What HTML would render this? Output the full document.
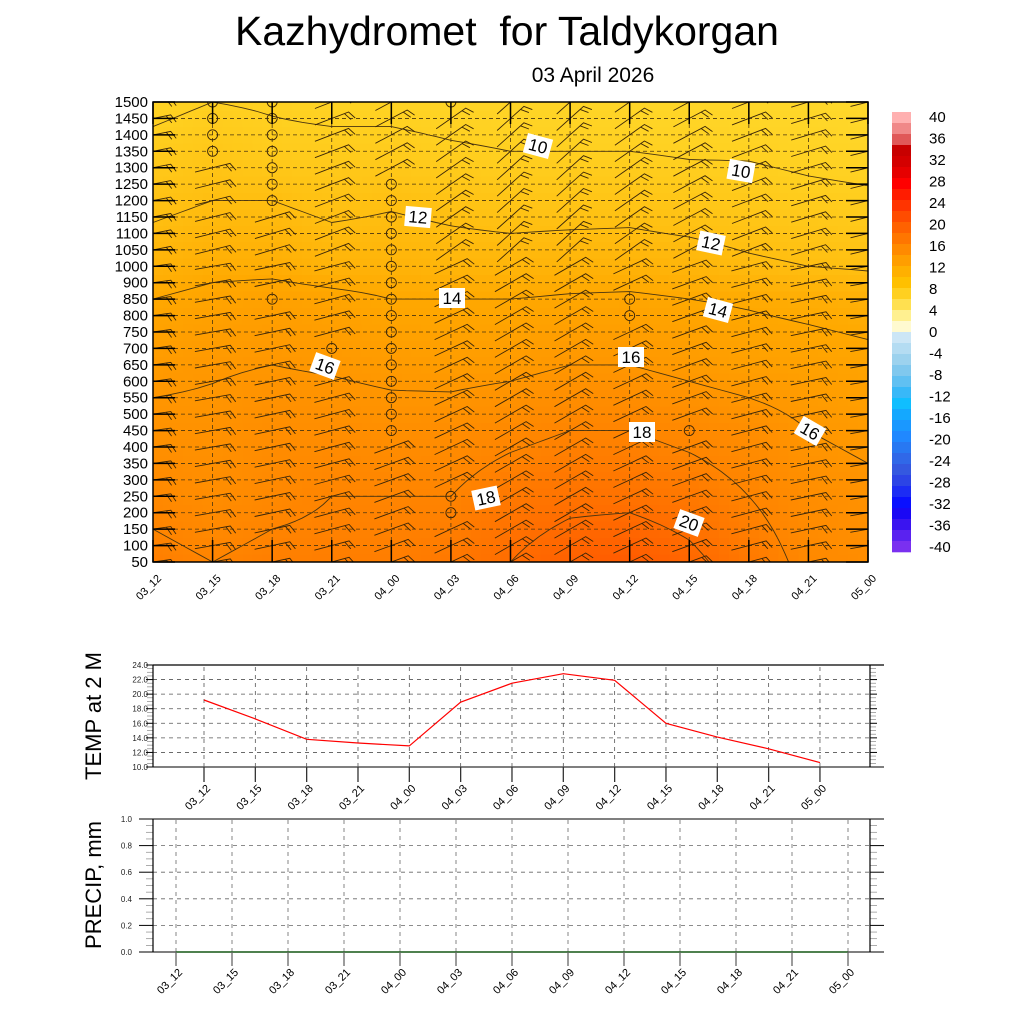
<!DOCTYPE html>
<html><head><meta charset="utf-8"><style>
html,body{margin:0;padding:0;background:#fff}
svg{display:block;font-family:"Liberation Sans",Arial,sans-serif}
</style></head><body>
<svg id="s" width="1024" height="1024" viewBox="0 0 1024 1024" xmlns="http://www.w3.org/2000/svg">
<defs><clipPath id="clipMain"><rect x="153" y="102" width="715" height="460"/></clipPath></defs>
<text x="507" y="45" font-size="41" text-anchor="middle" xml:space="preserve">Kazhydromet  for Taldykorgan</text>
<text x="593" y="82" font-size="21" text-anchor="middle">03 April 2026</text>
<g id="main"></g>
<g id="cbar"></g>
<g id="tp"></g>
<g id="pp"></g>
</svg>
<script>
const times=["03_12","03_15","03_18","03_21","04_00","04_03","04_06","04_09","04_12","04_15","04_18","04_21","05_00"];
const levels=[50,100,150,200,250,300,350,400,450,500,550,600,650,700,750,800,850,900,1000,1050,1100,1150,1200,1250,1300,1350,1400,1450,1500];
const fieldRowIdx=[0,4,8,12,16,18,22,25,28];
const field=[
[18.5,18,18.5,18.5,18.5,19,20,21,21.5,20.5,19,17.5,17],
[17.5,17,17.5,18,18,18,19,19.5,19.5,19,18,17,16.5],
[16.5,16.5,17,17,16.8,17,17.5,18,18,17.5,17,16,15.5],
[15.5,15.8,16,15.8,15.5,15.3,15.5,16,16,15.5,15,14.8,14.5],
[14,14.5,14.8,14.5,14,14,14,14.2,14.3,14,13.8,13.5,13.2],
[13,13.5,13.5,13,13,12.8,12.8,13,13,12.8,12.3,12,11.8],
[11.5,12,12,11.5,11.8,11.5,11.2,11.2,11.3,11,10.8,10.5,10.3],
[10.5,11,10.5,10.5,10.5,10.2,10,10,10,9.8,9.8,9.5,9.3],
[9.5,10,9.8,9.5,9.5,9.3,9.2,9.2,9,9,8.8,8.8,8.5]];
const contourLevels=[10,12,14,16,18,20];
const windAngle=[8,10,12,15,20,25,30,30,25,20,15,12,10];
const calmPts=[[1,25],[1,26],[1,27],[1,28],[2,22],[2,23],[2,24],[2,25],[2,26],[2,27],[2,28],[2,16],[3,13],[3,12],[4,8],[4,9],[4,10],[4,11],[4,12],[4,13],[4,14],[4,15],[4,16],[4,17],[4,18],[4,19],[4,20],[4,21],[4,22],[4,23],[5,3],[5,4],[5,28],[8,15],[8,16],[9,8]];
const cbLabels=["40","36","32","28","24","20","16","12","8","4","0","-4","-8","-12","-16","-20","-24","-28","-32","-36","-40"];
const cbColors=["#FFB0B0","#F08888","#E05858","#C80000","#D40000","#E60000","#FF0000","#FF1C00","#FF3400","#FF4C00","#FF6200","#FF7600","#FF8A00","#FF9E00","#FFB000","#FFC000","#FFD020","#FFE050","#FFF090","#FFFAD0","#CCE6F6","#B4DCF2","#9CD2EE","#80C8EE","#60C0F2","#38B8F8","#10BEFF","#14A8FF","#1A98FF","#2088FF","#2878F2","#3068E8","#3458E0","#2C44E6","#1C2CF4","#0A10FF","#1A08F4","#3A14F0","#5A22F0","#7A30F0"];
const fieldStopsT=[8,10,12,14,16,18,20,22];
const fieldStopsC=["#FFDC30","#FFD020","#FFBE10","#FFA800","#FF9600","#FF8400","#FF6C00","#FF5400"];
const temp2m=[19.2,16.6,13.8,13.3,12.9,18.9,21.5,22.8,21.9,16.0,14.1,12.5,10.6];
const tempTicks=[10,12,14,16,18,20,22,24];
const precip=[0,0,0,0,0,0,0,0,0,0,0,0,0];
const precipTicks=[0,0.2,0.4,0.6,0.8,1.0];

const NS="http://www.w3.org/2000/svg";
function mk(p,t,a){const e=document.createElementNS(NS,t);for(const k in a)e.setAttribute(k,a[k]);p.appendChild(e);return e;}
const X0=153,X1=868,Y0=562,Y1=102;
const xT=i=>X0+i*(X1-X0)/(times.length-1);
const yL=k=>Y0-k*(Y0-Y1)/(levels.length-1);
const main=document.getElementById('main');
const hx=s=>[1,3,5].map(j=>parseInt(s.substr(j,2),16));
function colorFor(t){
  let i=0;while(i<fieldStopsT.length-2&&t>fieldStopsT[i+1])i++;
  const fr=Math.max(0,Math.min(1,(t-fieldStopsT[i])/(fieldStopsT[i+1]-fieldStopsT[i])));
  const A=hx(fieldStopsC[i]),B=hx(fieldStopsC[i+1]);return 'rgb('+A.map((v,j)=>Math.round(v+(B[j]-v)*fr)).join(',')+')';
}
function fieldAt(ti,k){
  let r=0;while(r<fieldRowIdx.length-2&&k>fieldRowIdx[r+1])r++;
  const fk=Math.max(0,Math.min(1,(k-fieldRowIdx[r])/(fieldRowIdx[r+1]-fieldRowIdx[r])));
  let c=Math.min(times.length-2,Math.floor(ti));const fc=Math.max(0,Math.min(1,ti-c));
  const a=field[r][c]*(1-fc)+field[r][c+1]*fc,b=field[r+1][c]*(1-fc)+field[r+1][c+1]*fc;
  return a*(1-fk)+b*fk;
}
const NX=72,NY=56;
const fg=mk(main,'g',{'shape-rendering':'crispEdges'});


const cw=(X1-X0)/NX,ch=(Y0-Y1)/NY;
for(let i=0;i<NX;i++)for(let j=0;j<NY;j++){
  const ti=(i+0.5)/NX*(times.length-1),k=(j+0.5)/NY*(levels.length-1);
  mk(fg,'rect',{x:(X0+i*cw).toFixed(2),y:(Y0-(j+1)*ch).toFixed(2),width:(cw+0.6).toFixed(2),height:(ch+0.6).toFixed(2),fill:colorFor(fieldAt(ti,k))});
}
const cg=mk(main,'g',{stroke:'#4a3510','stroke-width':'0.9',fill:'none'});


const MX=48,MY=56;
const V=[];for(let i=0;i<=MX;i++){V[i]=[];for(let j=0;j<=MY;j++)V[i][j]=fieldAt(i/MX*(times.length-1),j/MY*(levels.length-1));}
const px=i=>X0+i/MX*(X1-X0),py=j=>Y0-j/MY*(Y0-Y1);
contourLevels.forEach(L=>{
  let d='';
  for(let i=0;i<MX;i++)for(let j=0;j<MY;j++){
    const c=[[i,j],[i+1,j],[i+1,j+1],[i,j+1]];const pts=[];
    for(let e=0;e<4;e++){const p=c[e],q=c[(e+1)%4];const a=V[p[0]][p[1]],b=V[q[0]][q[1]];
      if((a<L)!==(b<L)){const t=(L-a)/(b-a);pts.push([px(p[0]+(q[0]-p[0])*t),py(p[1]+(q[1]-p[1])*t)]);}}
    for(let m=0;m+1<pts.length;m+=2)d+='M'+pts[m][0].toFixed(1)+' '+pts[m][1].toFixed(1)+'L'+pts[m+1][0].toFixed(1)+' '+pts[m+1][1].toFixed(1);
  }
  const p=mk(cg,'path',{d:d});
  
  
});
const gg=mk(main,'g',{stroke:'#4a3510','stroke-width':'0.8','stroke-dasharray':'4 3'});
levels.forEach((l,k)=>{mk(gg,'line',{x1:X0,x2:X1,y1:yL(k),y2:yL(k)});});
times.forEach((t,i)=>{mk(gg,'line',{x1:xT(i),x2:xT(i),y1:Y0,y2:Y1});});
const bg=mk(main,'g',{stroke:'#3a2508','stroke-width':'0.9',fill:'none','clip-path':'url(#clipMain)'});


const isCalm=(i,k)=>calmPts.some(p=>p[0]===i&&p[1]===k);
times.forEach((t,i)=>{levels.forEach((l,k)=>{
  const x=xT(i),y=yL(k);
  if(isCalm(i,k)){const c=mk(bg,'circle',{cx:x,cy:y,r:5});return;}
  const a=windAngle[i]*(k>18?1.4:1)*Math.PI/180,L=18;
  const dx=Math.cos(a)*L,dy=-Math.sin(a)*L;
  const ex=x+dx,ey=y+dy;
  const fx=ex+Math.cos(a-1.1)*9,fy=ey-Math.sin(a-1.1)*9;
  const b=mk(bg,'path',{d:`M${(x-dx).toFixed(1)} ${(y-dy).toFixed(1)}L${ex.toFixed(1)} ${ey.toFixed(1)}L${fx.toFixed(1)} ${fy.toFixed(1)}M${(ex-dx*0.25).toFixed(1)} ${(ey-dy*0.25).toFixed(1)}l${(fx-ex).toFixed(1)} ${(fy-ey).toFixed(1)}`});
  
  
});});
const clabels=[[538,146,"10",15],[741,171,"10",10],[418,217,"12",5],[711,243,"12",12],[452,298,"14",0],[718,310,"14",15],[325,366,"16",20],[631,357,"16",0],[642,432,"18",0],[486,498,"18",-12],[689,523,"20",20],[810,431,"16",30]];
clabels.forEach(c=>{const g=mk(main,'g',{transform:`translate(${c[0]},${c[1]}) rotate(${c[3]})`});
  
  
  mk(g,'rect',{x:-13,y:-10,width:26,height:20,fill:'#fff'});
  const t=mk(g,'text',{x:0,y:6,'font-size':17,'text-anchor':'middle'});t.textContent=c[2];});
mk(main,'rect',{x:X0,y:Y1,width:X1-X0,height:Y0-Y1,fill:'none',stroke:'#000','stroke-width':1.5});
const tg=mk(main,'g',{stroke:'#000','stroke-width':1.5});
levels.forEach((l,k)=>{mk(tg,'line',{x1:X0,x2:X0+22,y1:yL(k),y2:yL(k)});mk(tg,'line',{x1:X1,x2:X1-22,y1:yL(k),y2:yL(k)});
  const t=mk(main,'text',{x:148,y:yL(k)+5,'font-size':15,'text-anchor':'end'});t.textContent=l;
  });
times.forEach((tm,i)=>{mk(tg,'line',{x1:xT(i),x2:xT(i),y1:Y0,y2:Y0-22});mk(tg,'line',{x1:xT(i),x2:xT(i),y1:Y1,y2:Y1+22});
  const t=mk(main,'text',{x:0,y:0,'font-size':11,'text-anchor':'end',transform:`translate(${xT(i)+9},${Y0+17}) rotate(-45)`});t.textContent=tm;
  });
const cbar=document.getElementById('cbar');
const bh=440/cbColors.length;
cbColors.forEach((c,i)=>{const r=mk(cbar,'rect',{x:892,y:(112+i*bh).toFixed(2),width:19,height:(bh+0.3).toFixed(2),fill:c});
  });
cbLabels.forEach((l,i)=>{const t=mk(cbar,'text',{x:929,y:117+i*21.5+5,'font-size':15});t.textContent=l;
  });
const tp=document.getElementById('tp');
const TX0=153,TX1=870,TY0=767,TY1=665;
const tx=i=>204+i*51.33,ty=v=>TY0-(v-tempTicks[0])/(tempTicks[tempTicks.length-1]-tempTicks[0])*(TY0-TY1);
const tgd=mk(tp,'g',{stroke:'#555','stroke-width':0.8,'stroke-dasharray':'4 4'});
tempTicks.forEach(v=>{mk(tgd,'line',{x1:TX0,x2:TX1,y1:ty(v),y2:ty(v)});
  const t=mk(tp,'text',{x:148,y:ty(v)+3,'font-size':8,'text-anchor':'end','fill':'#222'});t.textContent=v.toFixed(1);});
times.forEach((tm,i)=>{mk(tgd,'line',{x1:tx(i),x2:tx(i),y1:TY0,y2:TY1});});
for(let v=10;v<=24;v+=0.5){const mj=(v%2===0);mk(tp,'line',{x1:TX0-(mj?7:6),x2:TX0,y1:ty(v),y2:ty(v),stroke:mj?'#000':'#888','stroke-width':mj?1:0.7});
  mk(tp,'line',{x1:TX1,x2:TX1+(mj?7:6),y1:ty(v),y2:ty(v),stroke:mj?'#000':'#888','stroke-width':mj?1:0.7});}
mk(tp,'line',{x1:TX0,x2:884,y1:TY1,y2:TY1,stroke:'#000','stroke-width':1.2});
mk(tp,'line',{x1:TX0,x2:884,y1:TY0,y2:TY0,stroke:'#555','stroke-width':1.6});
mk(tp,'line',{x1:TX0,x2:TX0,y1:TY1,y2:TY0,stroke:'#000','stroke-width':1.2});
mk(tp,'line',{x1:TX1,x2:TX1,y1:TY1,y2:TY0,stroke:'#000','stroke-width':1.2});
const tl=mk(tp,'polyline',{points:temp2m.map((v,i)=>tx(i).toFixed(1)+','+ty(v).toFixed(1)).join(' '),fill:'none',stroke:'#f00','stroke-width':1.2});

times.forEach((tm,i)=>{mk(tp,'line',{x1:tx(i),x2:tx(i),y1:TY0,y2:TY0+15,stroke:'#333','stroke-width':1.3});
  const t=mk(tp,'text',{x:0,y:0,'font-size':11,'text-anchor':'end',transform:`translate(${tx(i)+7},${TY0+22}) rotate(-45)`});t.textContent=tm;
  });
const tyt=mk(tp,'text',{x:0,y:0,'font-size':22,'text-anchor':'middle',transform:'translate(101,716) rotate(-90)'});tyt.textContent='TEMP at 2 M';

const pp=document.getElementById('pp');
const PX0=153,PX1=870,PY0=952,PY1=819;
const pxs=i=>176+i*56,pys=v=>PY0-v/precipTicks[precipTicks.length-1]*(PY0-PY1);
const pgd=mk(pp,'g',{stroke:'#666','stroke-width':0.8,'stroke-dasharray':'4 4'});
precipTicks.forEach(v=>{mk(pgd,'line',{x1:PX0,x2:PX1,y1:pys(v),y2:pys(v)});
  const t=mk(pp,'text',{x:132,y:pys(v)+3,'font-size':8,'text-anchor':'end','fill':'#222'});t.textContent=v.toFixed(1);});
times.forEach((tm,i)=>{mk(pgd,'line',{x1:pxs(i),x2:pxs(i),y1:PY0,y2:PY1});});
for(let v=0;v<=1.0001;v+=0.05){const mj=Math.abs(v*5-Math.round(v*5))<1e-6;mk(pp,'line',{x1:PX0-(mj?14:7),x2:PX0,y1:pys(v),y2:pys(v),stroke:mj?'#000':'#888','stroke-width':mj?1:0.7});
  mk(pp,'line',{x1:PX1,x2:PX1+(mj?14:7),y1:pys(v),y2:pys(v),stroke:mj?'#000':'#888','stroke-width':mj?1:0.7});}
mk(pp,'line',{x1:139,x2:884,y1:PY1,y2:PY1,stroke:'#555','stroke-width':1.4});
mk(pp,'line',{x1:139,x2:884,y1:PY0,y2:PY0,stroke:'#555','stroke-width':1.4});
mk(pp,'line',{x1:PX0,x2:PX0,y1:PY1,y2:PY0,stroke:'#000','stroke-width':1.2});
mk(pp,'line',{x1:PX1,x2:PX1,y1:PY1,y2:PY0,stroke:'#000','stroke-width':1.2});
const pl=mk(pp,'polyline',{points:precip.map((v,i)=>pxs(i).toFixed(1)+','+pys(v).toFixed(1)).join(' '),fill:'none',stroke:'#1a6a1a','stroke-width':1.2});

times.forEach((tm,i)=>{mk(pp,'line',{x1:pxs(i),x2:pxs(i),y1:PY0,y2:PY0+14,stroke:'#666','stroke-width':1.3});
  const t=mk(pp,'text',{x:0,y:0,'font-size':11,'text-anchor':'end',transform:`translate(${pxs(i)+7},${PY0+21}) rotate(-45)`});t.textContent=tm;
  });
const pyt=mk(pp,'text',{x:0,y:0,'font-size':22,'text-anchor':'middle',transform:'translate(101,885) rotate(-90)'});pyt.textContent='PRECIP, mm';

</script>
</body></html>
